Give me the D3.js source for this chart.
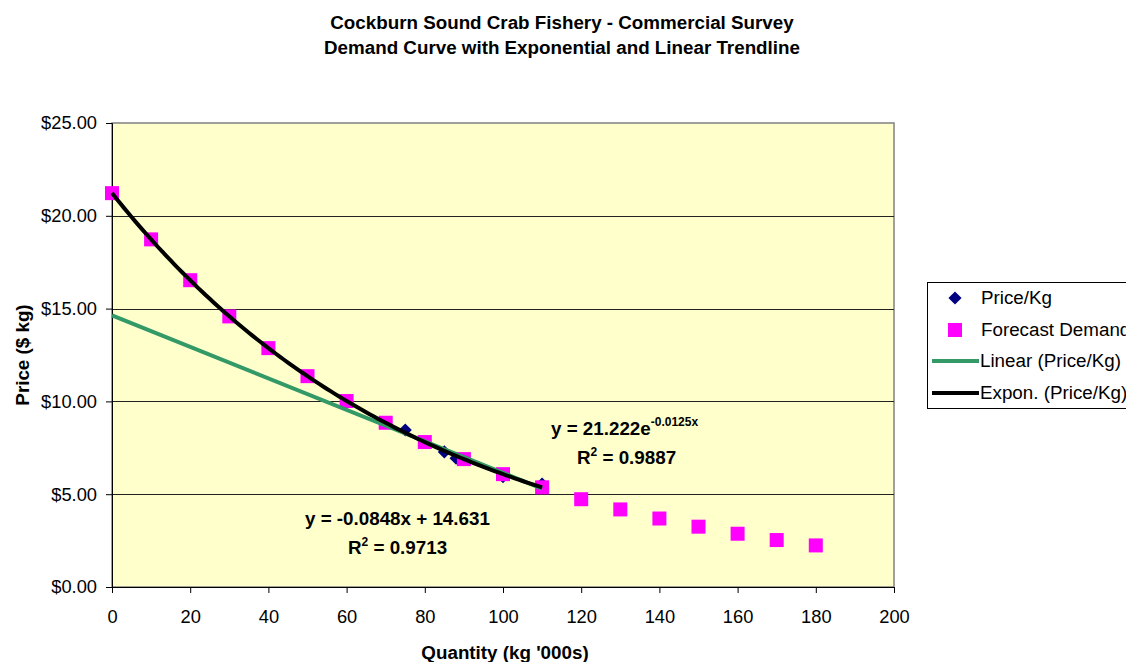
<!DOCTYPE html>
<html>
<head>
<meta charset="utf-8">
<script src="https://cdn.jsdelivr.net/npm/d3@7"></script>
<style>
  html, body { margin: 0; padding: 0; background: #fff; overflow: hidden; }
  svg { display: block; font-family: "Liberation Sans", Arial, sans-serif; }
</style>
</head>
<body>
<svg id="chart" width="1126" height="662"></svg>
<script>
// Survey observations (quantity in '000 kg, price $/kg)
const priceQty = [75, 85, 88, 100, 110];
const priceKg = [8.46, 7.28, 6.94, 5.95, 5.55];

// Forecast demand points
const forecastQty = [0, 10, 20, 30, 40, 50, 60, 70, 80, 90, 100, 110, 120, 130, 140, 150, 160, 170, 180];
const forecastPrice = [21.22, 18.73, 16.53, 14.58, 12.87, 11.36, 10.02, 8.85, 7.81, 6.89, 6.08, 5.37, 4.73, 4.18, 3.69, 3.25, 2.87, 2.53, 2.24];

// Fitted trendline coefficients (as printed on the chart)
const linSlope = -0.0848, linIntercept = 14.631, linR2 = "0.9713";
const expA = 21.222, expB = -0.0125, expR2 = "0.9887";
const trendRange = [0, 110];

const xTicks = [0, 20, 40, 60, 80, 100, 120, 140, 160, 180, 200];
const yTicks = [0, 5, 10, 15, 20, 25];
const legendLabels = ["Price/Kg", "Forecast Demand", "Linear (Price/Kg)", "Expon. (Price/Kg)"];

const svg = d3.select("#chart");
const x = d3.scaleLinear().domain([0, 200]).range([112, 894]);
const y = d3.scaleLinear().domain([0, 25]).range([587, 123]);

const boldSize = 18.8, tickSize = 18.3, legendSize = 18.8;

// Titles
svg.append("text").attr("x", 562).attr("y", 29).attr("text-anchor", "middle")
  .attr("font-size", boldSize).attr("font-weight", "bold").text("Cockburn Sound Crab Fishery - Commercial Survey");
svg.append("text").attr("x", 562).attr("y", 54).attr("text-anchor", "middle")
  .attr("font-size", boldSize).attr("font-weight", "bold").text("Demand Curve with Exponential and Linear Trendline");

// Plot area
svg.append("rect").attr("x", x(0)).attr("y", y(25)).attr("width", x(200) - x(0)).attr("height", y(0) - y(25))
  .attr("fill", "#FFFFCC").attr("stroke", "#808080").attr("stroke-width", 1.5);

// Horizontal gridlines
svg.append("g").selectAll("line").data(yTicks.filter(d => d > 0 && d < 25)).join("line")
  .attr("x1", x(0)).attr("x2", x(200))
  .attr("y1", d => Math.round(y(d)) + 0.5).attr("y2", d => Math.round(y(d)) + 0.5)
  .attr("stroke", "#222").attr("stroke-width", 1);

// Axes
const yAxis = svg.append("g").attr("transform", `translate(${x(0)},0)`)
  .call(d3.axisLeft(y).tickValues(yTicks).tickSize(6).tickPadding(9).tickFormat(d => "$" + d.toFixed(2)));
const xAxis = svg.append("g").attr("transform", `translate(0,${y(0)})`)
  .call(d3.axisBottom(x).tickValues(xTicks).tickSize(6).tickPadding(17).tickFormat(d3.format("d")));
[yAxis, xAxis].forEach(g => {
  g.selectAll("text").attr("font-size", tickSize).attr("fill", "#000").attr("font-family", "Liberation Sans, Arial, sans-serif");
  g.selectAll("line").attr("stroke", "#000");
  g.select(".domain").attr("stroke", "#000").attr("stroke-width", 1);
});

// Axis titles
svg.append("text").attr("x", x(100) + 2).attr("y", 659).attr("text-anchor", "middle")
  .attr("font-size", boldSize).attr("font-weight", "bold").text("Quantity (kg '000s)");
svg.append("text").attr("transform", "translate(29,355) rotate(-90)").attr("text-anchor", "middle")
  .attr("font-size", boldSize).attr("font-weight", "bold").text("Price ($ kg)");

// Survey diamonds (drawn first, forecast squares sit on top)
const diamond = d3.symbol().type(d3.symbolDiamond2).size(110);
svg.append("g").selectAll("path").data(priceQty.map((q, i) => [q, priceKg[i]])).join("path")
  .attr("d", diamond).attr("transform", d => `translate(${x(d[0])},${y(d[1])})`).attr("fill", "#000080");

// Forecast demand squares
const sq = 14;
svg.append("g").selectAll("rect").data(forecastQty.map((q, i) => [q, forecastPrice[i]])).join("rect")
  .attr("x", d => x(d[0]) - sq / 2).attr("y", d => y(d[1]) - sq / 2)
  .attr("width", sq).attr("height", sq).attr("fill", "#FF00FF");

// Trendlines
const steps = d3.range(trendRange[0], trendRange[1] + 0.001, 1);
const line = d3.line().x(d => x(d[0])).y(d => y(d[1]));
svg.append("path").datum(trendRange.map(q => [q, linIntercept + linSlope * q]))
  .attr("d", line).attr("fill", "none").attr("stroke", "#339966").attr("stroke-width", 4);
svg.append("path").datum(steps.map(q => [q, expA * Math.exp(expB * q)]))
  .attr("d", line).attr("fill", "none").attr("stroke", "#000").attr("stroke-width", 4);

// Trendline equations
const eq1 = svg.append("text").attr("x", 551).attr("y", 435).attr("font-size", boldSize).attr("font-weight", "bold");
eq1.append("tspan").text("y = " + expA + "e");
eq1.append("tspan").attr("dy", -9).attr("font-size", 12).text(expB + "x");
const r1 = svg.append("text").attr("x", 577).attr("y", 464).attr("font-size", boldSize).attr("font-weight", "bold");
r1.append("tspan").text("R");
r1.append("tspan").attr("dy", -8).attr("font-size", 12).text("2");
r1.append("tspan").attr("dy", 8).text(" = " + expR2);

svg.append("text").attr("x", 305).attr("y", 525).attr("font-size", boldSize).attr("font-weight", "bold")
  .text("y = " + linSlope + "x + " + linIntercept);
const r2 = svg.append("text").attr("x", 348).attr("y", 554).attr("font-size", boldSize).attr("font-weight", "bold");
r2.append("tspan").text("R");
r2.append("tspan").attr("dy", -8).attr("font-size", 12).text("2");
r2.append("tspan").attr("dy", 8).text(" = " + linR2);

// Legend
const lg = svg.append("g").attr("transform", "translate(927,282)");
lg.append("rect").attr("x", 0.5).attr("y", 0.5).attr("width", 240).attr("height", 126)
  .attr("fill", "#fff").attr("stroke", "#000").attr("stroke-width", 1);
const rowY = [16, 48, 79, 111];
lg.append("path").attr("d", d3.symbol().type(d3.symbolDiamond2).size(110))
  .attr("transform", `translate(28,${rowY[0]})`).attr("fill", "#000080");
lg.append("rect").attr("x", 21).attr("y", rowY[1] - 7).attr("width", 14).attr("height", 14).attr("fill", "#FF00FF");
lg.append("line").attr("x1", 5).attr("x2", 52).attr("y1", rowY[2]).attr("y2", rowY[2])
  .attr("stroke", "#339966").attr("stroke-width", 4);
lg.append("line").attr("x1", 5).attr("x2", 52).attr("y1", rowY[3]).attr("y2", rowY[3])
  .attr("stroke", "#000").attr("stroke-width", 4);
lg.selectAll("text.lbl").data(legendLabels).join("text").attr("class", "lbl")
  .attr("x", (d, i) => i < 2 ? 54 : 53).attr("y", (d, i) => rowY[i] + 6)
  .attr("font-size", legendSize).text(d => d);
</script>
</body>
</html>
